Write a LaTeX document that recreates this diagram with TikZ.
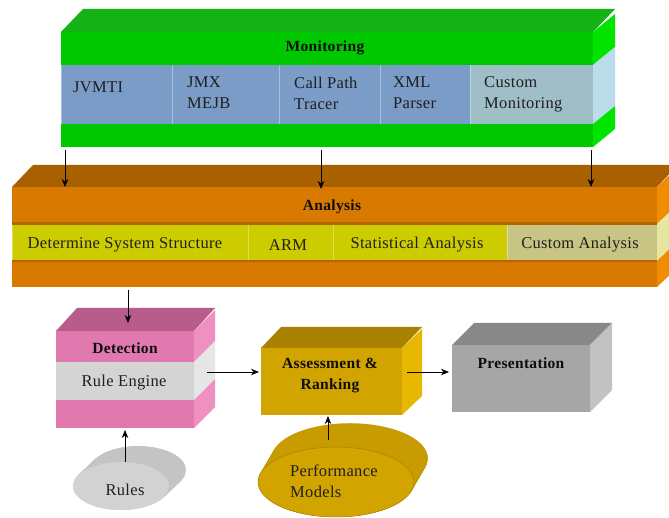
\documentclass[tikz,border=0pt]{standalone}
\usepackage{fontspec}
\setmainfont{Liberation Serif}[LetterSpace=2]
\usetikzlibrary{arrows.meta,calc}

% colours
\definecolor{grnFront}{RGB}{0,200,0}
\definecolor{grnTop}{RGB}{20,178,20}
\definecolor{grnSide}{RGB}{0,228,0}
\definecolor{bluCell}{RGB}{122,156,198}
\definecolor{bluCust}{RGB}{160,190,200}
\definecolor{bluSide}{RGB}{188,220,236}
\definecolor{orgFront}{RGB}{217,122,0}
\definecolor{orgTop}{RGB}{168,96,0}
\definecolor{orgSide}{RGB}{240,140,0}
\definecolor{orgLine}{RGB}{180,100,0}
\definecolor{yelCell}{RGB}{204,204,0}
\definecolor{yelCust}{RGB}{200,196,132}
\definecolor{yelSide}{RGB}{230,230,160}
\definecolor{pnkFront}{RGB}{224,122,174}
\definecolor{pnkTop}{RGB}{184,92,140}
\definecolor{pnkSide}{RGB}{238,144,192}
\definecolor{gryBand}{RGB}{212,212,212}
\definecolor{gryBandSide}{RGB}{230,230,230}
\definecolor{musFront}{RGB}{210,164,0}
\definecolor{musTop}{RGB}{168,130,0}
\definecolor{musSide}{RGB}{232,184,0}
\definecolor{musBody}{RGB}{200,156,0}
\definecolor{musEdge}{RGB}{170,128,0}
\definecolor{preFront}{RGB}{166,166,166}
\definecolor{preTop}{RGB}{136,136,136}
\definecolor{preSide}{RGB}{194,194,194}
\definecolor{rulFront}{RGB}{210,210,210}
\definecolor{rulBody}{RGB}{196,196,196}

% one horizontal band of a box: front rectangle and its slice of the right face
% #1 x1, #2 y1, #3 x2, #4 y2, #5 dx, #6 dy, #7 front colour, #8 side colour
\newcommand\boxband[8]{%
  \fill[#7] (#1,#2) rectangle (#3,#4);
  \fill[#8] (#3,#2) -- (#3+#5,#2-#6) -- (#3+#5,#4-#6) -- (#3,#4) -- cycle;}
% top face of a box: #1 x1, #2 y, #3 x2, #4 dx, #5 dy, #6 colour
\newcommand\boxtop[6]{%
  \fill[#6] (#1,#2) -- (#1+#4,#2-#5) -- (#3+#4,#2-#5) -- (#3,#2) -- cycle;}
% a cell of a band with a faint divider on its left
\newcommand\bandcell[5]{%
  \fill[#5] (#1,#2) rectangle (#3,#4);
  \draw[white, opacity=0.35, line width=1pt] (#1,#2) -- (#1,#4);}

\tikzset{
  txt/.style={font=\fontsize{16.5}{21}\selectfont, text=black!88, inner sep=0pt},
  ttl/.style={font=\fontsize{15.5}{21}\selectfont\bfseries, text=black!95, inner sep=0pt},
  arr/.style={-{Stealth[length=8pt,width=6.5pt]}, line width=0.8pt, black},
}

\begin{document}
\begin{tikzpicture}[x=1pt,y=-1pt]
\useasboundingbox (0,0) rectangle (669,518);
\fill[white] (0,0) rectangle (669,518);

% ---------------- Monitoring ----------------
\boxtop{61}{32}{593}{22}{23}{grnTop}
\boxband{61}{32}{593}{65}{22}{18}{grnFront}{grnSide}
\boxband{61}{65}{593}{124}{22}{18}{bluCell}{bluSide}
\boxband{61}{124}{593}{147}{22}{18}{grnFront}{grnSide}
\bandcell{61}{65}{172}{124}{bluCell}
\bandcell{172}{65}{279}{124}{bluCell}
\bandcell{279}{65}{380}{124}{bluCell}
\bandcell{380}{65}{470}{124}{bluCell}
\bandcell{470}{65}{593}{124}{bluCust}
\node[ttl] (monitoring) at (325,48) {Monitoring};
\node[txt, anchor=west] (jvmti) at (73,87) {JVMTI};
\node[txt, anchor=west, align=left] (jmx) at (187,93) {JMX\\MEJB};
\node[txt, anchor=west, align=left] (cpt) at (294,93) {Call Path\\Tracer};
\node[txt, anchor=west, align=left] (xml) at (393,93) {XML\\Parser};
\node[txt, anchor=west, align=left] (cmon) at (484,94) {Custom\\Monitoring};

% ---------------- Analysis ----------------
\boxtop{12}{187}{657}{21}{22}{orgTop}
\boxband{12}{187}{657}{224}{21}{20}{orgFront}{orgSide}
\boxband{12}{224}{657}{261}{21}{20}{yelCell}{yelSide}
\boxband{12}{261}{657}{287}{21}{20}{orgFront}{orgSide}
\bandcell{12}{225}{248}{260}{yelCell}
\bandcell{248}{225}{333}{260}{yelCell}
\bandcell{333}{225}{507}{260}{yelCell}
\bandcell{507}{225}{657}{260}{yelCust}
\fill[orgLine] (12,222) rectangle (657,225);
\fill[orgLine] (12,260) rectangle (657,262.5);
\node[ttl] (analysis) at (332,207) {Analysis};
\node[txt] (dss) at (125,245) {Determine System Structure};
\node[txt] (arm) at (288,245) {ARM};
\node[txt] (stat) at (417,245) {Statistical Analysis};
\node[txt] (cana) at (580,245) {Custom Analysis};

% ---------------- Detection ----------------
\boxtop{56}{331}{194}{21}{23}{pnkTop}
\boxband{56}{331}{194}{362}{21}{21}{pnkFront}{pnkSide}
\boxband{56}{362}{194}{400}{21}{21}{gryBand}{gryBandSide}
\boxband{56}{400}{194}{428}{21}{21}{pnkFront}{pnkSide}
\node[ttl] (detection) at (125,348) {Detection};
\node[txt] (rule) at (124,383) {Rule Engine};

% ---------------- Assessment & Ranking ----------------
\boxtop{261}{348}{402}{20}{21}{musTop}
\boxband{261}{348}{402}{415}{20}{19}{musFront}{musSide}
\node[ttl, align=center] (assess) at (330,376) {Assessment \&\\Ranking};

% ---------------- Presentation ----------------
\boxtop{452}{345}{590}{22}{22}{preTop}
\boxband{452}{345}{590}{412}{22}{22}{preFront}{preSide}
\node[ttl] (present) at (521,363) {Presentation};

% ---------------- Rules (tilted disc) ----------------
\foreach \t in {0,0.04,...,1.0}
  \fill[rulBody] (121+17*\t,486-16*\t) ellipse [x radius=48, y radius=24];
\fill[rulFront] (121,486) ellipse [x radius=48, y radius=24];
\node[txt] (rules) at (125,490) {Rules};

% ---------------- Performance Models (tilted disc) ----------------
\foreach \t in {0,0.03,...,1.0}
  \fill[musBody] (336+14*\t,482-24*\t) ellipse [x radius=78, y radius=35];
\fill[musFront, draw=musEdge, line width=0.5pt] (336,482) ellipse [x radius=78, y radius=35];
\node[txt, anchor=west, align=left] (perf) at (290,481) {Performance\\Models};

% ---------------- connectors ----------------
\coordinate (monOutA) at (65,150);   \coordinate (anaInA) at (65,187);
\coordinate (monOutB) at (321,150);  \coordinate (anaInB) at (321,189);
\coordinate (monOutC) at (591,150);  \coordinate (anaInC) at (591,187);
\coordinate (anaOut)  at (128,290);  \coordinate (detIn)  at (128,323);
\coordinate (detOut)  at (207,372);  \coordinate (assIn)  at (259,372);
\coordinate (assOut)  at (407,372);  \coordinate (preIn)  at (449,372);
\coordinate (rulOut)  at (125,462);  \coordinate (detInB) at (125,430);
\coordinate (perfOut) at (328,440);  \coordinate (assInB) at (328,416);

\draw[arr] (monOutA) -- (anaInA);
\draw[arr] (monOutB) -- (anaInB);
\draw[arr] (monOutC) -- (anaInC);
\draw[arr] (anaOut) -- (detIn);
\draw[arr] (detOut) -- (assIn);
\draw[arr] (assOut) -- (preIn);
\draw[arr] (rulOut) -- (detInB);
\draw[arr] (perfOut) -- (assInB);
\end{tikzpicture}
\end{document}
